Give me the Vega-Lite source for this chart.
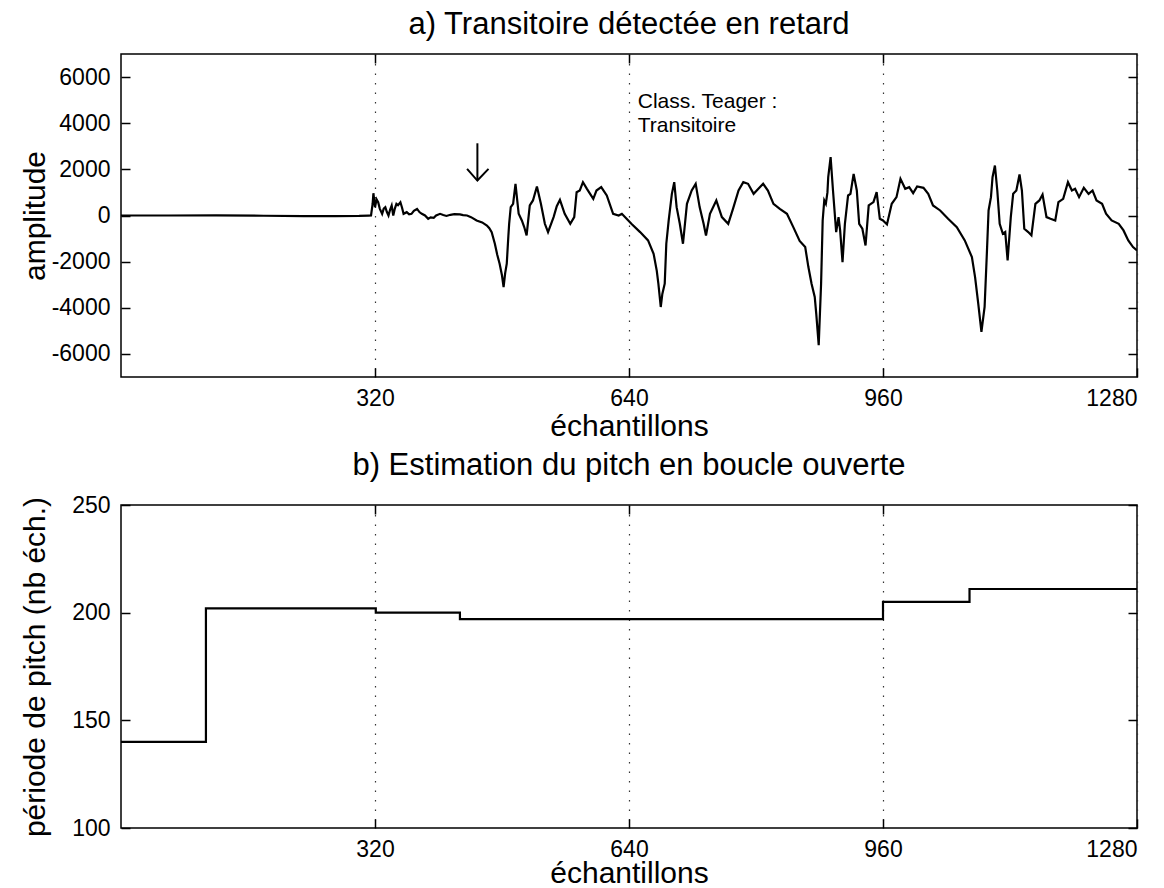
{
  "$schema": "https://vega.github.io/schema/vega-lite/v6.json",
  "background": "white",
  "padding": {"left": 19, "top": 8, "right": 2, "bottom": 0},
  "spacing": 7,
  "config": {
    "font": "Liberation Sans",
    "view": {"stroke": "black", "strokeWidth": 1.5},
    "axis": {
      "labelFont": "Liberation Sans",
      "labelFontSize": 23,
      "labelColor": "black",
      "titleFont": "Liberation Sans",
      "titleFontSize": 30,
      "titleFontWeight": "normal",
      "titleColor": "black",
      "domain": false,
      "tickColor": "black",
      "tickSize": -9,
      "tickWidth": 1.5,
      "grid": false,
      "labelExpr": "'' + datum.value"
    },
    "title": {
      "font": "Liberation Sans",
      "fontSize": 31,
      "fontWeight": "normal",
      "color": "black",
      "anchor": "middle",
      "frame": "group",
      "offset": 12
    }
  },
  "datasets": {
    "signal": [
      {"n":0,"amplitude":0},{"n":60,"amplitude":0},{"n":120,"amplitude":5},{"n":180,"amplitude":-10},{"n":230,"amplitude":-25},{"n":270,"amplitude":-30},{"n":300,"amplitude":-20},{"n":312,"amplitude":-5},{"n":315,"amplitude":0},{"n":317,"amplitude":500},{"n":318,"amplitude":965},{"n":320,"amplitude":360},{"n":322,"amplitude":700},{"n":324,"amplitude":576},{"n":326,"amplitude":300},{"n":329,"amplitude":72},{"n":331,"amplitude":300},{"n":333,"amplitude":360},{"n":335,"amplitude":150},{"n":337,"amplitude":0},{"n":339,"amplitude":250},{"n":341,"amplitude":433},{"n":343,"amplitude":0},{"n":345,"amplitude":300},{"n":347,"amplitude":505},{"n":349,"amplitude":450},{"n":352,"amplitude":576},{"n":354,"amplitude":350},{"n":356,"amplitude":72},{"n":360,"amplitude":144},{"n":363,"amplitude":50},{"n":366,"amplitude":72},{"n":369,"amplitude":200},{"n":373,"amplitude":288},{"n":376,"amplitude":150},{"n":379,"amplitude":72},{"n":383,"amplitude":0},{"n":387,"amplitude":-144},{"n":390,"amplitude":-80},{"n":394,"amplitude":-100},{"n":397,"amplitude":0},{"n":402,"amplitude":72},{"n":406,"amplitude":20},{"n":410,"amplitude":-20},{"n":415,"amplitude":30},{"n":420,"amplitude":60},{"n":427,"amplitude":50},{"n":431,"amplitude":20},{"n":436,"amplitude":0},{"n":441,"amplitude":-70},{"n":448,"amplitude":-216},{"n":455,"amplitude":-300},{"n":461,"amplitude":-433},{"n":464,"amplitude":-550},{"n":467,"amplitude":-721},{"n":471,"amplitude":-1227},{"n":474,"amplitude":-1700},{"n":477,"amplitude":-2090},{"n":480,"amplitude":-2600},{"n":482,"amplitude":-3100},{"n":484,"amplitude":-2500},{"n":486,"amplitude":-2090},{"n":488,"amplitude":-900},{"n":489,"amplitude":-360},{"n":491,"amplitude":363},{"n":494,"amplitude":507},{"n":497,"amplitude":1373},{"n":501,"amplitude":75},{"n":505,"amplitude":-214},{"n":508,"amplitude":-500},{"n":511,"amplitude":-864},{"n":515,"amplitude":435},{"n":519,"amplitude":652},{"n":524,"amplitude":1257},{"n":529,"amplitude":507},{"n":534,"amplitude":-360},{"n":538,"amplitude":-720},{"n":545,"amplitude":-70},{"n":549,"amplitude":400},{"n":553,"amplitude":680},{"n":559,"amplitude":75},{"n":566,"amplitude":-360},{"n":571,"amplitude":-70},{"n":574,"amplitude":1012},{"n":578,"amplitude":1084},{"n":582,"amplitude":1445},{"n":587,"amplitude":1156},{"n":591,"amplitude":940},{"n":595,"amplitude":724},{"n":599,"amplitude":1084},{"n":605,"amplitude":1229},{"n":612,"amplitude":868},{"n":620,"amplitude":75},{"n":627,"amplitude":2},{"n":631,"amplitude":75},{"n":637,"amplitude":-142},{"n":643,"amplitude":-360},{"n":654,"amplitude":-720},{"n":664,"amplitude":-1080},{"n":671,"amplitude":-1657},{"n":675,"amplitude":-2400},{"n":677,"amplitude":-2956},{"n":680,"amplitude":-3966},{"n":682,"amplitude":-3400},{"n":685,"amplitude":-2956},{"n":687,"amplitude":-1225},{"n":690,"amplitude":-214},{"n":694,"amplitude":940},{"n":697,"amplitude":1445},{"n":700,"amplitude":363},{"n":704,"amplitude":-360},{"n":708,"amplitude":-1225},{"n":713,"amplitude":507},{"n":719,"amplitude":1084},{"n":724,"amplitude":1373},{"n":729,"amplitude":363},{"n":734,"amplitude":-360},{"n":737,"amplitude":-864},{"n":742,"amplitude":75},{"n":750,"amplitude":652},{"n":757,"amplitude":-70},{"n":765,"amplitude":-360},{"n":771,"amplitude":290},{"n":778,"amplitude":1084},{"n":784,"amplitude":1445},{"n":790,"amplitude":1373},{"n":797,"amplitude":940},{"n":803,"amplitude":1156},{"n":809,"amplitude":1373},{"n":815,"amplitude":1084},{"n":822,"amplitude":507},{"n":830,"amplitude":290},{"n":839,"amplitude":75},{"n":847,"amplitude":-503},{"n":855,"amplitude":-1100},{"n":862,"amplitude":-1369},{"n":866,"amplitude":-2235},{"n":870,"amplitude":-2956},{"n":874,"amplitude":-3533},{"n":876,"amplitude":-4300},{"n":879,"amplitude":-5625},{"n":882,"amplitude":-2956},{"n":884,"amplitude":-214},{"n":886,"amplitude":652},{"n":888,"amplitude":507},{"n":890,"amplitude":1000},{"n":891,"amplitude":1662},{"n":894,"amplitude":2527},{"n":897,"amplitude":1084},{"n":901,"amplitude":-720},{"n":904,"amplitude":-70},{"n":906,"amplitude":-647},{"n":909,"amplitude":-2018},{"n":912,"amplitude":-360},{"n":916,"amplitude":868},{"n":919,"amplitude":940},{"n":923,"amplitude":1806},{"n":927,"amplitude":1084},{"n":930,"amplitude":-360},{"n":934,"amplitude":-575},{"n":938,"amplitude":-1297},{"n":942,"amplitude":435},{"n":948,"amplitude":580},{"n":952,"amplitude":1012},{"n":956,"amplitude":-142},{"n":960,"amplitude":-214},{"n":965,"amplitude":-387},{"n":971,"amplitude":507},{"n":977,"amplitude":796},{"n":982,"amplitude":1589},{"n":988,"amplitude":1156},{"n":993,"amplitude":1229},{"n":998,"amplitude":969},{"n":1003,"amplitude":1257},{"n":1011,"amplitude":1200},{"n":1017,"amplitude":940},{"n":1023,"amplitude":435},{"n":1032,"amplitude":218},{"n":1042,"amplitude":-142},{"n":1053,"amplitude":-503},{"n":1063,"amplitude":-1080},{"n":1072,"amplitude":-1801},{"n":1076,"amplitude":-2667},{"n":1080,"amplitude":-3822},{"n":1084,"amplitude":-5048},{"n":1088,"amplitude":-3966},{"n":1091,"amplitude":-1513},{"n":1093,"amplitude":218},{"n":1096,"amplitude":796},{"n":1098,"amplitude":1662},{"n":1101,"amplitude":2167},{"n":1104,"amplitude":1084},{"n":1107,"amplitude":-360},{"n":1111,"amplitude":-792},{"n":1114,"amplitude":-720},{"n":1117,"amplitude":-1946},{"n":1121,"amplitude":-70},{"n":1124,"amplitude":940},{"n":1128,"amplitude":1084},{"n":1132,"amplitude":1777},{"n":1135,"amplitude":1084},{"n":1138,"amplitude":-575},{"n":1143,"amplitude":-720},{"n":1147,"amplitude":-864},{"n":1152,"amplitude":507},{"n":1157,"amplitude":652},{"n":1161,"amplitude":911},{"n":1166,"amplitude":-70},{"n":1171,"amplitude":-142},{"n":1177,"amplitude":-214},{"n":1181,"amplitude":580},{"n":1187,"amplitude":724},{"n":1193,"amplitude":1445},{"n":1198,"amplitude":1084},{"n":1202,"amplitude":1156},{"n":1207,"amplitude":796},{"n":1213,"amplitude":1200},{"n":1219,"amplitude":940},{"n":1224,"amplitude":1084},{"n":1229,"amplitude":652},{"n":1236,"amplitude":507},{"n":1241,"amplitude":75},{"n":1248,"amplitude":-214},{"n":1257,"amplitude":-360},{"n":1263,"amplitude":-647},{"n":1269,"amplitude":-1080},{"n":1275,"amplitude":-1369},{"n":1280,"amplitude":-1513}
    ],
    "arrowShaft": [{"n": 449, "top": 3130, "tip": 1515}],
    "arrowHead": [
      {"k": 0, "n": 436, "amplitude": 2020},
      {"k": 1, "n": 449, "amplitude": 1515},
      {"k": 2, "n": 463, "amplitude": 2020}
    ],
    "note": [
      {"n": 651, "amplitude": 4906, "text": "Class. Teager :"},
      {"n": 651, "amplitude": 3897, "text": "Transitoire"}
    ],
    "pitch": [
      {"n": 0, "periode": 140},
      {"n": 107, "periode": 202},
      {"n": 321, "periode": 200},
      {"n": 427, "periode": 197},
      {"n": 960, "periode": 205},
      {"n": 1069, "periode": 211},
      {"n": 1280, "periode": 211}
    ]
  },
  "vconcat": [
    {
      "width": 1016,
      "height": 323,
      "title": {"text": "a) Transitoire détectée en retard"},
      "layer": [
        {
          "data": {"name": "signal"},
          "mark": {"type": "line", "color": "black", "strokeWidth": 2.2, "clip": true},
          "encoding": {
            "x": {
              "field": "n", "type": "quantitative",
              "scale": {"domain": [0, 1280], "nice": false, "zero": false},
              "axis": {
                "values": [320, 640, 960, 1280],
                "title": "échantillons",
                "grid": true, "gridDash": [1.5, 8], "gridColor": "#333", "gridWidth": 1.2,
                "labelPadding": 19,
                "titleY": 49, "titleBaseline": "middle"
              }
            },
            "y": {
              "field": "amplitude", "type": "quantitative",
              "scale": {"domain": [-7000, 7000], "nice": false, "zero": false},
              "axis": {
                "values": [-6000, -4000, -2000, 0, 2000, 4000, 6000],
                "title": "amplitude",
                "labelPadding": 20,
                "titleX": -86, "titleBaseline": "middle"
              }
            }
          }
        },
        {
          "data": {"name": "signal"},
          "mark": {"type": "point", "opacity": 0},
          "encoding": {
            "x": {
              "field": "n", "type": "quantitative",
              "axis": {"orient": "top", "values": [320, 640, 960], "labels": false, "title": null}
            },
            "y": {
              "field": "amplitude", "type": "quantitative",
              "axis": {"orient": "right", "values": [-6000, -4000, -2000, 0, 2000, 4000, 6000], "labels": false, "title": null}
            }
          }
        },
        {
          "data": {"name": "arrowShaft"},
          "mark": {"type": "rule", "color": "black", "strokeWidth": 2},
          "encoding": {
            "x": {"field": "n", "type": "quantitative", "axis": null},
            "y": {"field": "top", "type": "quantitative", "axis": null},
            "y2": {"field": "tip"}
          }
        },
        {
          "data": {"name": "arrowHead"},
          "mark": {"type": "line", "color": "black", "strokeWidth": 2},
          "encoding": {
            "x": {"field": "n", "type": "quantitative", "axis": null},
            "y": {"field": "amplitude", "type": "quantitative", "axis": null},
            "order": {"field": "k"}
          }
        },
        {
          "data": {"name": "note"},
          "mark": {"type": "text", "align": "left", "baseline": "middle", "fontSize": 21, "font": "Liberation Sans", "color": "black"},
          "encoding": {
            "x": {"field": "n", "type": "quantitative", "axis": null},
            "y": {"field": "amplitude", "type": "quantitative", "axis": null},
            "text": {"field": "text"}
          }
        }
      ],
      "resolve": {"axis": {"x": "independent", "y": "independent"}}
    },
    {
      "width": 1016,
      "height": 323,
      "title": {"text": "b) Estimation du pitch en boucle ouverte"},
      "layer": [
        {
          "data": {"name": "pitch"},
          "mark": {"type": "line", "color": "black", "strokeWidth": 2.2, "interpolate": "step-after"},
          "encoding": {
            "x": {
              "field": "n", "type": "quantitative",
              "scale": {"domain": [0, 1280], "nice": false, "zero": false},
              "axis": {
                "values": [320, 640, 960, 1280],
                "title": "échantillons",
                "grid": true, "gridDash": [1.5, 8], "gridColor": "#333", "gridWidth": 1.2,
                "labelPadding": 19,
                "titleY": 45, "titleBaseline": "middle"
              }
            },
            "y": {
              "field": "periode", "type": "quantitative",
              "scale": {"domain": [100, 250], "nice": false, "zero": false},
              "axis": {
                "values": [100, 150, 200, 250],
                "title": "période de pitch (nb éch.)",
                "labelPadding": 20,
                "titleX": -86, "titleBaseline": "middle"
              }
            }
          }
        },
        {
          "data": {"name": "pitch"},
          "mark": {"type": "point", "opacity": 0},
          "encoding": {
            "x": {
              "field": "n", "type": "quantitative",
              "axis": {"orient": "top", "values": [320, 640, 960], "labels": false, "title": null}
            },
            "y": {
              "field": "periode", "type": "quantitative",
              "axis": {"orient": "right", "values": [100, 150, 200, 250], "labels": false, "title": null}
            }
          }
        }
      ],
      "resolve": {"axis": {"x": "independent", "y": "independent"}}
    }
  ]
}
